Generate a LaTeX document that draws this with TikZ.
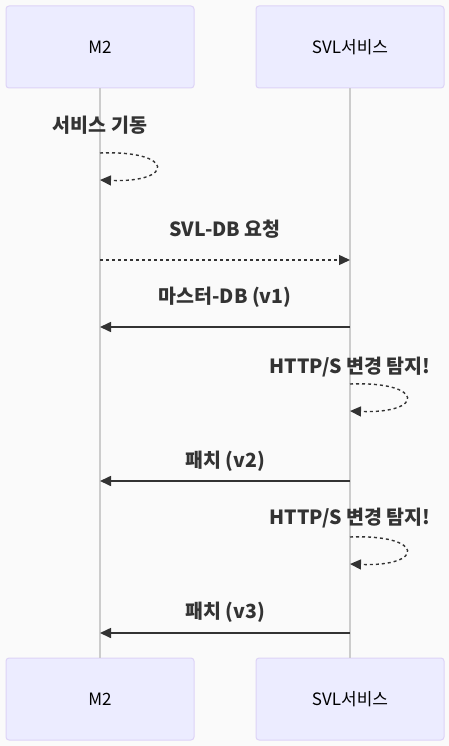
\documentclass[tikz,border=0pt]{standalone}
\usepackage{fontspec}
\setmainfont{Noto Sans CJK KR}
\usetikzlibrary{arrows.meta,calc}

\definecolor{bgcol}{HTML}{FAFAFA}
\definecolor{actorfill}{HTML}{ECECFF}
\definecolor{actorline}{HTML}{DDD3F7}
\definecolor{lifecol}{HTML}{CCCCCC}
\definecolor{msgcol}{HTML}{333333}

\tikzset{
  actor/.style={draw=actorline,fill=actorfill,line width=1pt,rounded corners=3pt,
    minimum width=188pt,minimum height=82pt,inner sep=0pt,font=\fontsize{17}{19}\selectfont},
  msglabel/.style={font=\bfseries\fontsize{19.5}{22}\selectfont,text=msgcol,inner sep=0pt},
  msg/.style={draw=msgcol,line width=1.6pt,-{Triangle[length=11pt,width=10pt]}},
  msgdash/.style={msg,line width=1.4pt,dash pattern=on 3pt off 3pt},
  lifeline/.style={draw=lifecol,line width=1.3pt}
}

\begin{document}
\begin{tikzpicture}[x=1pt,y=-1pt]
  \path[use as bounding box,fill=bgcol] (0,0) rectangle (449,746);

  % actors
  \node[actor] (m2top)  at (100,47)  {M2};
  \node[actor] (svltop) at (350,47)  {SVL서비스};
  \node[actor] (m2bot)  at (100,699) {M2};
  \node[actor] (svlbot) at (350,699) {SVL서비스};

  \draw[lifeline] (m2top) -- (m2bot);
  \draw[lifeline] (svltop) -- (svlbot);

  % points on the lifelines
  \coordinate (a1) at (100,153);
  \coordinate (a2) at (100,180);
  \coordinate (b1) at (100,260);
  \coordinate (b2) at (350,260);
  \coordinate (c1) at (350,327);
  \coordinate (c2) at (100,327);
  \coordinate (d1) at (350,384);
  \coordinate (d2) at (350,411);
  \coordinate (e1) at (350,481);
  \coordinate (e2) at (100,481);
  \coordinate (f1) at (350,537);
  \coordinate (f2) at (350,564);
  \coordinate (g1) at (350,633);
  \coordinate (g2) at (100,633);

  % messages
  \node[msglabel] (start) at (100,125) {서비스 기동};
  \draw[msgdash] (a1) .. controls ($(a1)+(75,-3)$) and ($(a2)+(75,3)$) .. (a2);

  \node[msglabel] (req) at (225,229) {SVL-DB 요청};
  \draw[msgdash] (b1) -- (b2);

  \node[msglabel] (master) at (225,297) {마스터-DB (v1)};
  \draw[msg] (c1) -- (c2);

  \node[msglabel] (detect1) at (350,367) {HTTP/S 변경 탐지!};
  \draw[msgdash] (d1) .. controls ($(d1)+(75,-3)$) and ($(d2)+(75,3)$) .. (d2);

  \node[msglabel] (patch2) at (225,461) {패치 (v2)};
  \draw[msg] (e1) -- (e2);

  \node[msglabel] (detect2) at (350,518) {HTTP/S 변경 탐지!};
  \draw[msgdash] (f1) .. controls ($(f1)+(75,-3)$) and ($(f2)+(75,3)$) .. (f2);

  \node[msglabel] (patch3) at (225,612) {패치 (v3)};
  \draw[msg] (g1) -- (g2);
\end{tikzpicture}
\end{document}
